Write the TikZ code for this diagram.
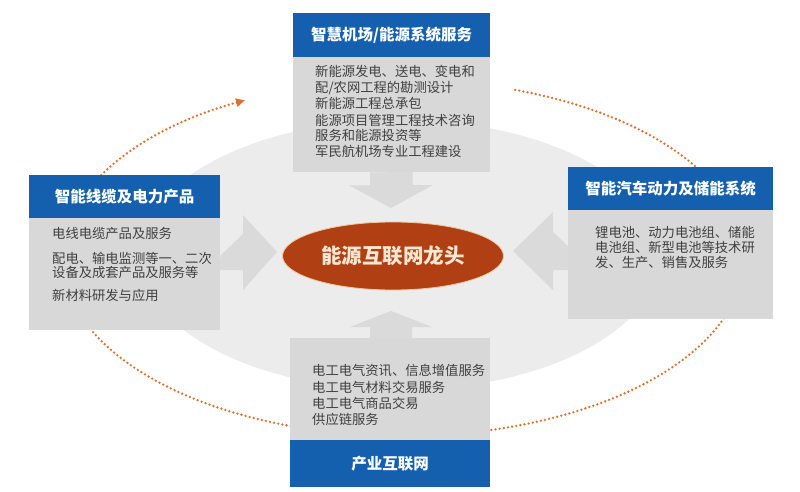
\documentclass[tikz,border=0pt]{standalone}
\usepackage{fontspec}
\setmainfont{Noto Sans CJK SC}
\usetikzlibrary{shapes.geometric,arrows.meta}
\definecolor{hdrblue}{RGB}{21,96,174}
\definecolor{bodygrey}{RGB}{216,216,216}
\definecolor{arrgrey}{RGB}{218,218,218}
\definecolor{bggrey}{RGB}{236,236,236}
\definecolor{txtgrey}{RGB}{64,64,64}
\definecolor{dotorange}{RGB}{222,112,48}
\definecolor{coreorange}{RGB}{176,64,20}
\definecolor{corerim}{RGB}{240,200,160}
\definecolor{coretext}{RGB}{250,232,212}
\tikzset{
  hdr/.style={fill=hdrblue, draw=none, inner sep=0pt, anchor=north west, text=white, font=\bfseries\fontsize{15.5}{18}\selectfont},
  bodybox/.style={fill=bodygrey, draw=none, inner sep=0pt, anchor=north west},
  line/.style={anchor=base west, inner sep=0pt, text=txtgrey, font=\fontsize{13.3}{16}\selectfont},
  bigarrow/.style={fill=arrgrey, draw=none},
  orbit/.style={draw=dotorange, line width=2.6pt, line cap=round, dash pattern=on 0pt off 4.2pt},
}
\begin{document}
\begin{tikzpicture}[x=1pt,y=-1pt]
\useasboundingbox (0,0) rectangle (800,492);
\fill[white] (0,0) rectangle (800,492);
% background ellipse
\fill[bggrey] (400,255) ellipse[x radius=260pt, y radius=135pt];
% dotted orbit
\draw[orbit, -{Triangle[length=9pt,width=8pt]}]
  ([shift={(403,258)}]70.8:341pt and 178pt) coordinate (orbstart) arc[start angle=70.8, end angle=-242.4, x radius=341pt, y radius=178pt] coordinate (orbend);
% top box
\node[bodybox, minimum width=197pt, minimum height=116pt] (topbody) at (293,56) {};
\node[hdr, minimum width=197pt, minimum height=44pt] (tophdr) at (293,13) {智慧机场/能源系统服务};
% left box
\node[bodybox, minimum width=191pt, minimum height=113pt] (leftbody) at (29,217) {};
\node[hdr, minimum width=191pt, minimum height=43pt] (lefthdr) at (29,175) {智能线缆及电力产品};
% right box
\node[bodybox, minimum width=205pt, minimum height=110pt] (rightbody) at (568,209) {};
\node[hdr, minimum width=205pt, minimum height=43pt] (righthdr) at (568,167) {智能汽车动力及储能系统};
% bottom box
\node[bodybox, minimum width=200pt, minimum height=103pt] (botbody) at (290,338) {};
\node[hdr, minimum width=200pt, minimum height=47pt] (bothdr) at (290,440) {产业互联网};
% arrows
\fill[bigarrow] (topbody.south) ++(-21.5,0) -- ++(0,13) -- ++(-21,0) -- (391,208) -- (433,185) -- (412.5,185) -- (412.5,172) -- cycle;
\fill[bigarrow] (leftbody.east) ++(0,-18) -- (243,234) -- (243,215) -- (277,252) -- (243,290) -- (243,270) -- (220,270) -- cycle;
\fill[bigarrow] (rightbody.west) ++(0,-18) -- (553,232) -- (553,212) -- (513,251) -- (553,290) -- (553,270) -- (568,270) -- cycle;
\fill[bigarrow] (botbody.north) ++(-20,0) -- (370,327) -- (350,327) -- (391,311) -- (432,327) -- (412,327) -- (412,338) -- cycle;
% centre
\node[ellipse, fill=coreorange, draw=corerim, line width=0.8pt, minimum width=221pt, minimum height=68pt, inner sep=0pt,
      text=coretext, font=\bfseries\fontsize{20.5}{24}\selectfont] (core) at (393,256) {能源互联网龙头};
% top text
\foreach \y/\t [count=\i] in {77/{新能源发电、送电、变电和}, 93/{配/农网工程的勘测设计}, 109/{新能源工程总承包}, 125/{能源项目管理工程技术咨询}, 141/{服务和能源投资等}, 157/{军民航机场专业工程建设}}
  \node[line] (tl\i) at (315,\y) {\t};
% left text
\foreach \y/\t [count=\i] in {238/{电线电缆产品及服务}, 263/{配电、输电监测等一、二次}, 277/{设备及成套产品及服务等}, 300/{新材料研发与应用}}
  \node[line] (ll\i) at (52,\y) {\t};
% right text
\foreach \y/\t [count=\i] in {237/{锂电池、动力电池组、储能}, 252/{电池组、新型电池等技术研}, 267/{发、生产、销售及服务}}
  \node[line] (rl\i) at (595,\y) {\t};
% bottom text
\foreach \y/\t [count=\i] in {375/{电工电气资讯、信息增值服务}, 392/{电工电气材料交易服务}, 408/{电工电气商品交易}, 424/{供应链服务}}
  \node[line] (bl\i) at (312,\y) {\t};
\end{tikzpicture}
\end{document}
